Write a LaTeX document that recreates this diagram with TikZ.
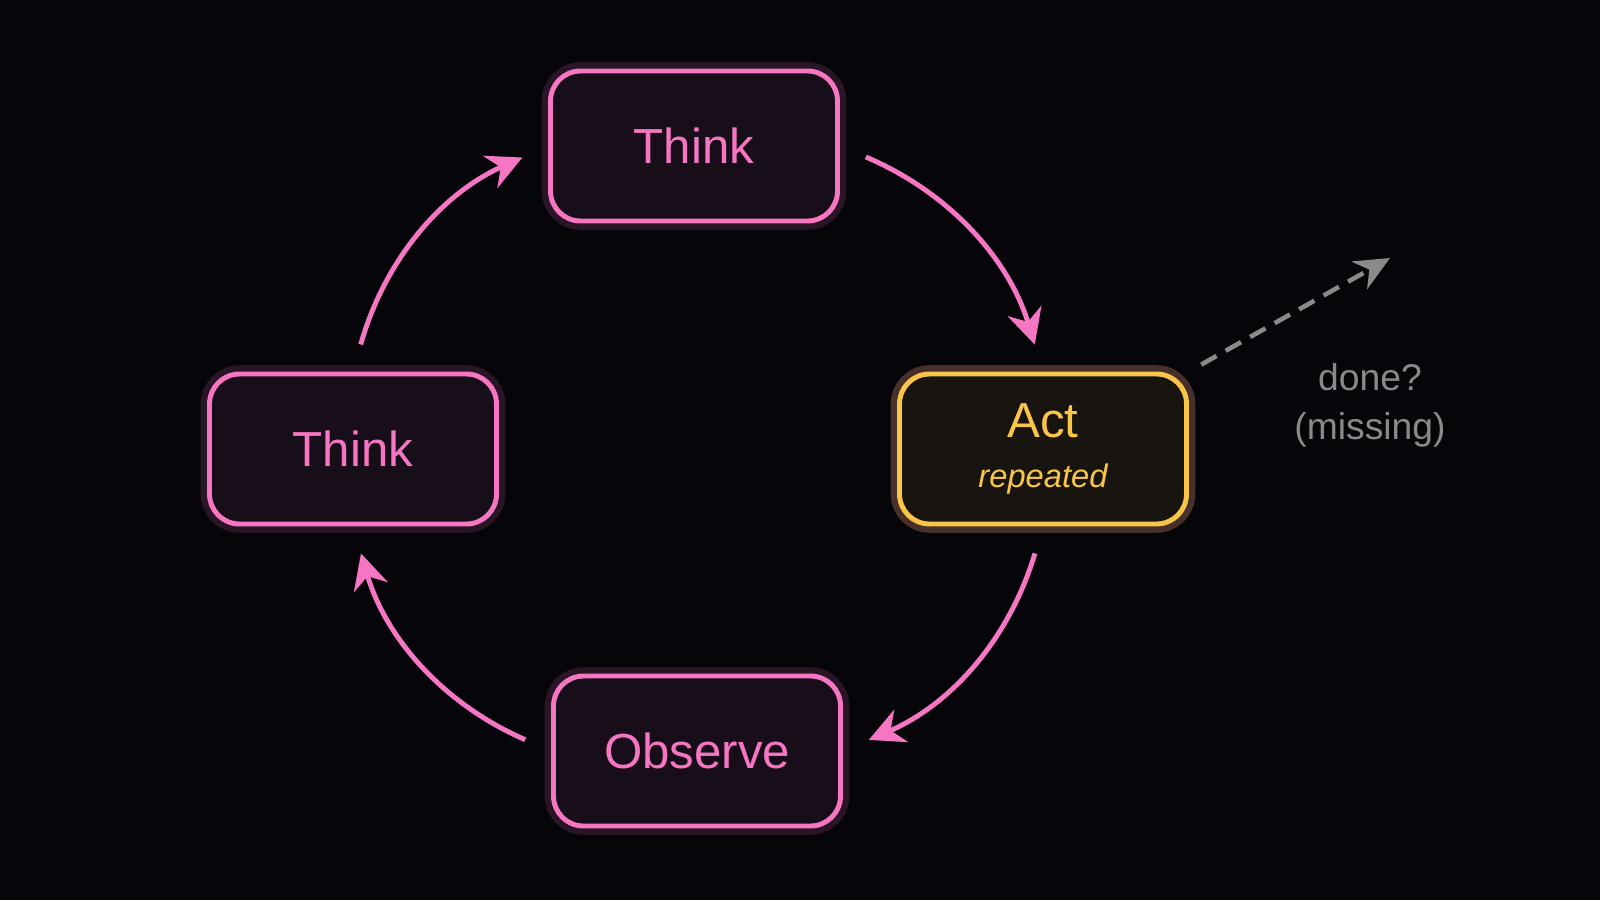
\documentclass[tikz,border=0pt]{standalone}
\usepackage{fontspec}
\setmainfont{Liberation Sans}
\usetikzlibrary{arrows.meta}
\definecolor{loopPink}{HTML}{F776C4}
\definecolor{actGold}{HTML}{F8C549}
\definecolor{bgDark}{HTML}{05050A}
\definecolor{doneGray}{HTML}{8A8A8A}
\begin{document}
\begin{tikzpicture}[
		stage/.style={
			draw=loopPink,
			line width=1.4pt,
			fill=loopPink!8!bgDark,
			text=loopPink,
			rounded corners=0.3cm,
			minimum height=1.5cm,
			minimum width=2.87cm,
			font=\fontsize{14}{16}\selectfont,
			preaction={draw=loopPink, line width=5pt, opacity=0.15}},
			act/.style={
			stage,
			draw=actGold,
			fill=actGold!8!bgDark,
			text=actGold,
			align=center,
			preaction={draw=actGold, line width=5pt, opacity=0.15}},
			flow/.style={
			draw=loopPink,
			line width=1.4pt,
			-{Stealth[length=10pt,width=10pt]},
			shorten <=8pt,
			shorten >=8pt}]

		\fill[bgDark] (0,0) rectangle (16,9);

		\node (thinkTop) [stage] at (6.94,7.54) {Think};
		\node (thinkLeft) [stage] at (3.53,4.51) {Think};
		\node (act) [act] at (10.43,4.51) {Act\\[-2pt]{\fontsize{9.3}{11}\selectfont\itshape repeated}};
		\node (observe) [stage] at (6.97,1.49) {Observe};

		\draw [flow] (thinkTop.east) to[bend left=25] (act.north);
		\draw [flow] (act.south) to[bend left=25] (observe.east);
		\draw [flow] (observe.west) to[bend left=25] (thinkLeft.south);
		\draw [flow] (thinkLeft.north) to[bend left=25] (thinkTop.west);

		\coordinate (doneTip) at (13.9,6.42);
		\draw [doneGray, line width=1.3pt, dash pattern=on 5pt off 3pt, -{Stealth[length=10pt,width=9pt]}, shorten <=4pt] (act.north east) -- (doneTip);
		\node (done) [text=doneGray, align=center, font=\fontsize{10.6}{14}\selectfont] at (13.7,4.95) {done?\\(missing)};
	\end{tikzpicture}
\end{document}
